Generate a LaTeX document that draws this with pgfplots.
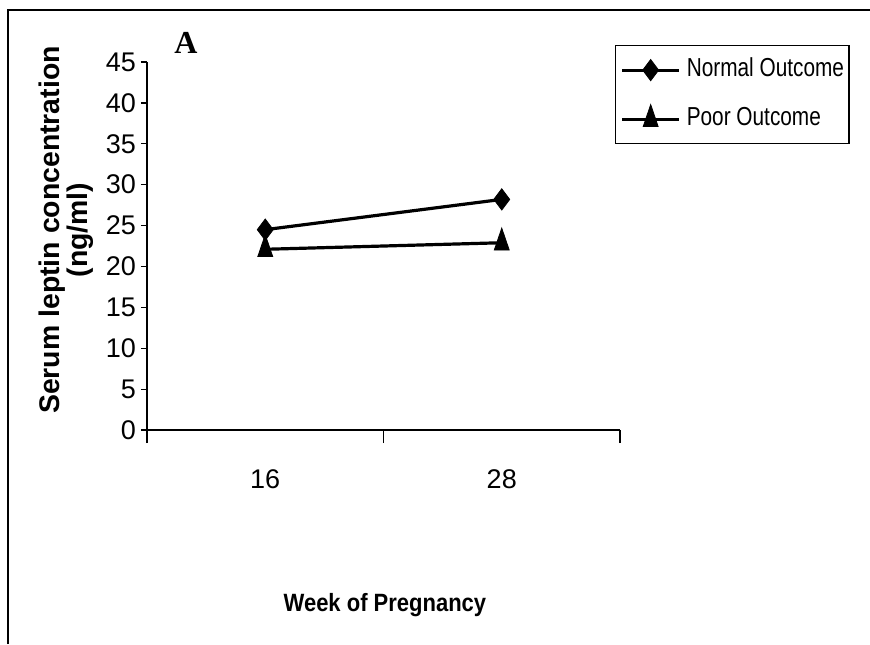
\documentclass[border=0pt]{standalone}
\usepackage{fontspec}
\setmainfont{Liberation Sans}
\newfontfamily\cond{Liberation Sans}[FakeStretch=0.8]
\newfontfamily\bcond{Liberation Sans Bold}[FakeStretch=0.88]
\newfontfamily\tms{Liberation Serif}
\usepackage{pgfplots}
\pgfplotsset{compat=1.18}
\begin{document}
\begin{tikzpicture}
\begin{axis}[
  at={(0,0)}, anchor=south west,
  scale only axis, width=236.5pt, height=184pt,
  xmin=0.5, xmax=2.5, ymin=0, ymax=45,
  clip=false,
  axis x line*=bottom, axis y line*=left,
  axis line style={-, line width=0.6pt},
  tick align=outside,
  tick style={line width=0.6pt, black},
  major tick length=6.5pt,
  xtick={0.5,1.5,2.5}, xticklabels={},
  extra x ticks={1,2}, extra x tick labels={16,28},
  extra x tick style={major tick length=0pt},
  xticklabel style={yshift=-16.5pt},
  ytick=\empty,
  extra y ticks={0,5,10,15,20,25,30,35,40,45},
  extra y tick style={major tick length=3pt},
  /pgf/number format/assume math mode=true,
  tick label style={font=\fontsize{13.5}{15}\selectfont},
  yticklabel style={xshift=1pt},
  xlabel={Week of Pregnancy},
  xlabel style={at={(rel axis cs:0.503,-0.4755)}, anchor=center, font=\bcond\fontsize{12.5}{15}\selectfont},
  ylabel={Serum leptin concentration\\(ng/ml)},
  ylabel style={at={(rel axis cs:-0.1712,0.5435)}, anchor=center, align=center, font=\bfseries\fontsize{14.2}{12.5}\selectfont},
  legend style={at={(0.9894,1.0462)}, anchor=north west, draw=black, line width=0.6pt,
    inner xsep=2.5pt, inner ysep=6.5pt, row sep=11.5pt, column sep=0pt,
    font=\cond\fontsize{13}{15}\selectfont,
    nodes={inner sep=0pt, text height=9pt, text depth=2.5pt, anchor=west}},
  legend cell align=left,
  legend image code/.code={\draw[mark repeat=2,mark phase=2,#1] plot coordinates {(0pt,0pt) (14.25pt,0pt) (28.5pt,0pt)}; \path (31.5pt,0pt);},
]
\addplot[black, line width=1.6pt, mark=diamond*, mark size=5.3pt, mark options={line width=0.4pt, fill=black}]
  coordinates {(1,24.5) (2,28.2)};
\addlegendentry{Normal Outcome}
\addplot[black, line width=1.6pt, mark=triangle*, mark size=7.3pt, mark options={line width=0.4pt, fill=black, xscale=0.59}]
  coordinates {(1,22.1) (2,22.9)};
\addlegendentry{Poor Outcome}
\node[font=\tms\bfseries\fontsize{16}{18}\selectfont] at (rel axis cs:0.0825,1.0516) {A};
\end{axis}
\draw[line width=0.8pt] (-69.5pt,-107pt) -- (-69.5pt,210pt) -- (361.5pt,210pt);
\pgfresetboundingbox
\path[use as bounding box] (-73.5pt,-107pt) rectangle (361.5pt,215pt);
\end{tikzpicture}
\end{document}
